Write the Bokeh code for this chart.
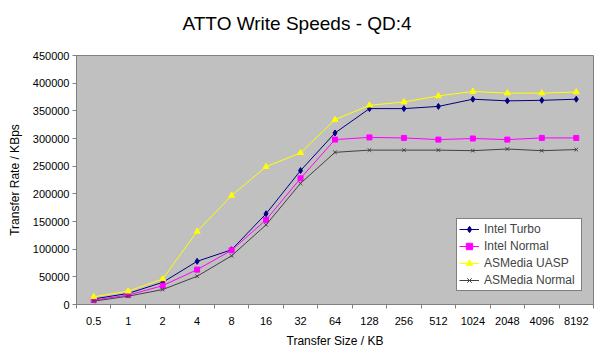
from bokeh.plotting import figure
from bokeh.models import FixedTicker, Legend, LegendItem, Range1d, Title
from bokeh.embed import file_html
from bokeh.resources import INLINE

sizes = ["0.5", "1", "2", "4", "8", "16", "32", "64", "128", "256", "512", "1024", "2048", "4096", "8192"]
intel_turbo = [10000, 20000, 40000, 78000, 99000, 164000, 242000, 310000, 354000, 354000, 358000, 371000, 368000, 369000, 371000]
intel_normal = [8000, 17000, 34000, 63000, 98000, 153000, 228000, 298000, 302000, 301000, 298000, 300000, 298000, 301000, 301000]
asmedia_uasp = [14000, 24000, 46000, 132000, 197000, 249000, 274000, 334000, 360000, 366000, 377000, 385000, 382000, 382000, 384000]
asmedia_normal = [6000, 15000, 27000, 51000, 88000, 144000, 219000, 275000, 279000, 279000, 279000, 278000, 281000, 278000, 280000]
y_ticks = [0, 50000, 100000, 150000, 200000, 250000, 300000, 350000, 400000, 450000]
title_text = "ATTO Write Speeds - QD:4"

xs = [i + 0.5 for i in range(len(sizes))]

font = "Liberation Sans"
p = figure(width=600, height=351, output_backend="svg", toolbar_location=None, title=None,
           x_range=Range1d(0, len(sizes)), y_range=Range1d(0, 450000),
           min_border_left=76, min_border_right=7, min_border_top=55, min_border_bottom=47)
p.add_layout(Title(text=" ", text_font_size="14px", standoff=0), "above")
p.add_layout(Title(text=title_text, align="left", offset=106, standoff=8,
                   text_font=font, text_font_size="19px", text_font_style="normal",
                   text_color="black"), "above")
p.background_fill_color = "#C0C0C0"
p.border_fill_color = "white"
p.outline_line_color = "#808080"
p.outline_line_width = 1
p.grid.visible = False

xa = p.xaxis[0]
xa.ticker = FixedTicker(ticks=xs, minor_ticks=list(range(len(sizes) + 1)))
xa.major_label_overrides = {x: s for x, s in zip(xs, sizes)}
xa.major_tick_out = 0
xa.major_tick_in = 0
xa.minor_tick_out = 4
xa.minor_tick_in = 0
xa.axis_label = "Transfer Size / KB"
ya = p.yaxis[0]
ya.ticker = FixedTicker(ticks=y_ticks)
ya.formatter.use_scientific = False
ya.major_tick_out = 4
ya.major_tick_in = 0
ya.minor_tick_out = 0
ya.minor_tick_in = 0
ya.axis_label = "Transfer Rate / KBps"
for ax in (xa, ya):
    ax.axis_line_color = "#808080"
    ax.major_tick_line_color = "#808080"
    ax.minor_tick_line_color = "#808080"
    ax.major_label_text_font = font
    ax.major_label_text_font_size = "11px"
    ax.major_label_text_color = "black"
    ax.axis_label_text_font = font
    ax.axis_label_text_font_size = "12px"
    ax.axis_label_text_font_style = "normal"
    ax.axis_label_text_color = "black"
xa.major_label_standoff = 8
xa.axis_label_standoff = 6
ya.major_label_standoff = 3
ya.axis_label_standoff = 8

items = []
r = p.line(xs, intel_turbo, line_color="#000080", line_width=1)
m = p.scatter(xs, intel_turbo, marker="diamond", size=6, fill_color="#000080", line_color="#000080")
items.append(LegendItem(label="Intel Turbo", renderers=[r, m]))
r = p.line(xs, intel_normal, line_color="#FF00FF", line_width=1)
m = p.scatter(xs, intel_normal, marker="square", size=5, fill_color="#FF00FF", line_color="#FF00FF")
items.append(LegendItem(label="Intel Normal", renderers=[r, m]))
r = p.line(xs, asmedia_uasp, line_color="#FFFF00", line_width=1)
m = p.scatter(xs, asmedia_uasp, marker="triangle", size=6, fill_color="#FFFF00", line_color="#FFFF00")
items.append(LegendItem(label="ASMedia UASP", renderers=[r, m]))
r = p.line(xs, asmedia_normal, line_color="#404040", line_width=1)
m = p.scatter(xs, asmedia_normal, marker="x", size=5, line_color="#404040")
items.append(LegendItem(label="ASMedia Normal", renderers=[r, m]))

legend = Legend(items=items, location=(380, 13), orientation="vertical",
                background_fill_color="white", background_fill_alpha=1,
                border_line_color="black", border_line_width=1,
                label_text_font=font, label_text_font_size="12px",
                label_height=16, glyph_height=16, glyph_width=20, label_width=95,
                spacing=1, padding=2, margin=0, label_standoff=5)
p.add_layout(legend)

open("out.html", "w").write(file_html(p, INLINE))
